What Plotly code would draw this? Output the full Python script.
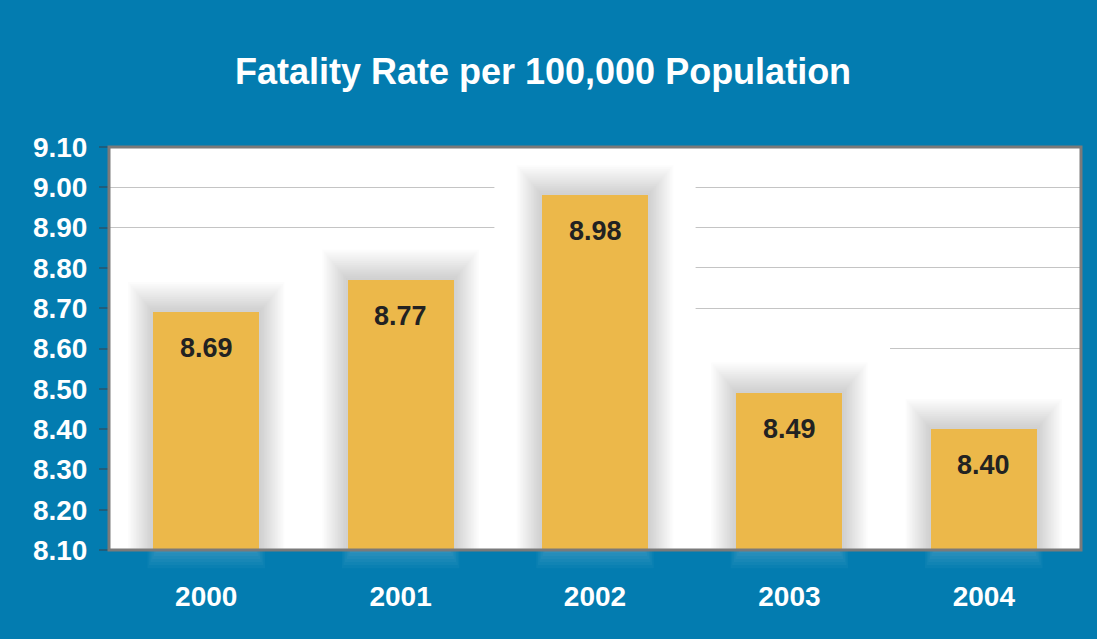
import plotly.graph_objects as go

# Fatality rate per 100,000 population, by year
years = ["2000", "2001", "2002", "2003", "2004"]
rates = [8.69, 8.77, 8.98, 8.49, 8.40]
y_ticks = [8.10, 8.20, 8.30, 8.40, 8.50, 8.60, 8.70, 8.80, 8.90, 9.00, 9.10]

BG = "#037cb0"
BAR = "#ecb84a"
FONT = "Liberation Sans, Arial, sans-serif"
Y_MIN, Y_MAX = 8.10, 9.10
BAR_W = 0.545

fig = go.Figure()
fig.add_trace(go.Bar(
    x=years, y=rates, width=BAR_W,
    marker=dict(color=BAR, line=dict(width=0)),
    textposition="none",
    hoverinfo="x+y",
))

shapes = []
# soft white haze behind each bar (hides the gridlines near the bars)
for i, v in enumerate(rates):
    shapes.append(dict(type="rect", layer="between", xref="x", yref="y",
                       x0=i - BAR_W / 2 - 0.245, x1=i + BAR_W / 2 + 0.245,
                       y0=Y_MIN, y1=v + 0.12,
                       fillcolor="white", line=dict(width=0)))
# grey drop shadow around each bar, built from many thin translucent layers
n_layers = 16
for i, v in enumerate(rates):
    for k in range(n_layers):
        f = (n_layers - k) / n_layers          # 1 -> outermost, small -> innermost
        dx = 0.13 * f
        dy = 0.075 * f
        shapes.append(dict(type="rect", layer="between", xref="x", yref="y",
                           x0=i - BAR_W / 2 - dx, x1=i + BAR_W / 2 + dx,
                           y0=Y_MIN, y1=v + dy,
                           fillcolor="rgba(130,130,145,0.023)", line=dict(width=0)))
# faint light reflection under each bar, below the axis
for i, v in enumerate(rates):
    for k in range(6):
        f = (6 - k) / 6
        shapes.append(dict(type="rect", layer="above", xref="x", yref="paper",
                           x0=i - BAR_W / 2 - 0.05 * f + 0.02, x1=i + BAR_W / 2 + 0.05 * f - 0.02,
                           y0=-0.045 * f, y1=0,
                           fillcolor="rgba(255,255,255,0.03)", line=dict(width=0)))
# plot frame
shapes.append(dict(type="rect", layer="above", xref="paper", yref="paper",
                   x0=0, x1=1, y0=0, y1=1, line=dict(color="#7a7a7a", width=3)))

annotations = [
    dict(x=i, y=v, xref="x", yref="y", text=f"<b>{v:.2f}</b>", showarrow=False,
         yshift=-36, font=dict(family=FONT, size=27, color="#222222"))
    for i, v in enumerate(rates)
]

fig.update_layout(
    width=1097, height=639,
    paper_bgcolor=BG, plot_bgcolor="white",
    margin=dict(l=109, r=16, t=147, b=89),
    title=dict(text="<b>Fatality Rate per 100,000 Population</b>",
               x=0.495, xanchor="center", y=0.888, yanchor="middle",
               font=dict(family=FONT, size=36, color="white")),
    showlegend=False,
    bargap=0,
    shapes=shapes,
    annotations=annotations,
    xaxis=dict(
        type="category", range=[-0.5, 4.5],
        showgrid=False, zeroline=False, showline=False,
        ticks="", ticklabelstandoff=27,
        tickfont=dict(family=FONT, size=28, color="white", weight="bold"),
    ),
    yaxis=dict(
        range=[Y_MIN, Y_MAX], tickvals=y_ticks, tickformat=".2f",
        showgrid=True, gridcolor="#c4c4c4", gridwidth=1,
        zeroline=False, showline=False,
        ticks="outside", ticklen=9, tickwidth=1.5, tickcolor="#1d5e7e",
        ticklabelstandoff=6,
        tickfont=dict(family=FONT, size=28, color="white", weight="bold"),
    ),
)

fig.write_html("out.html")
